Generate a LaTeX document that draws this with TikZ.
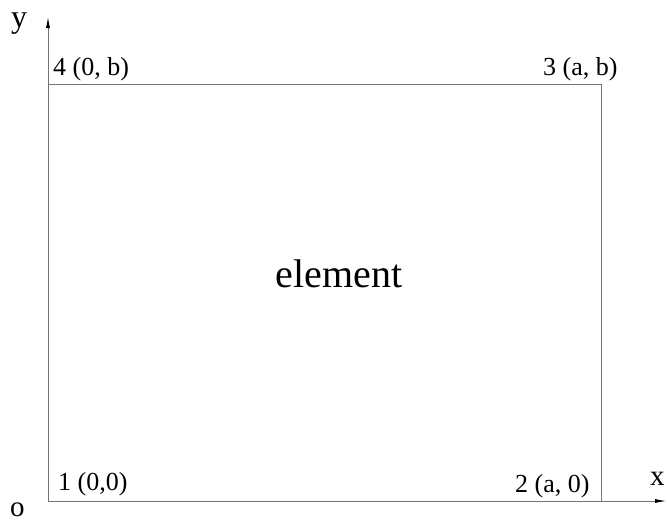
\documentclass[tikz,border=0pt]{standalone}
\usepackage{fontspec}
\setmainfont{Liberation Serif}
\usetikzlibrary{arrows.meta, positioning}

\begin{document}
\begin{tikzpicture}[x=1pt, y=-1pt,
  edge/.style={draw=black!55, line width=0.8pt},
  axis/.style={edge, -{Latex[length=11pt,width=4pt,black]}},
  corner/.style={font=\fontsize{26}{30}\selectfont, inner sep=0pt},
  axislabel/.style={font=\fontsize{29}{34}\selectfont, inner sep=0pt},
]
  \useasboundingbox (0,0) rectangle (667,523);

  % corners of the element
  \coordinate (n1) at (48,501);
  \coordinate (n2) at (601,501);
  \coordinate (n3) at (601,84);
  \coordinate (n4) at (48,84);
  \coordinate (ytip) at (48,17);
  \coordinate (xtip) at (666,501);

  \draw[edge] (n4) -- (n3) -- (n2);
  \draw[axis] (n1) -- (ytip);
  \draw[axis] (n1) -- (xtip);

  \node[corner, anchor=base west] (l1) at (58,490) {1 (0,0)};
  \node[corner, anchor=base west] (l2) at (515,492) {2 (a, 0)};
  \node[corner, anchor=base west] (l3) at (543,75) {3 (a, b)};
  \node[corner, anchor=base west] (l4) at (53,75) {4 (0, b)};

  \node[axislabel, font=\fontsize{32}{36}\selectfont, anchor=base west] (ylab) at (11,27) {y};
  \node[axislabel, anchor=base west] (xlab) at (650,485) {x};
  \node[axislabel, anchor=base west] (olab) at (10,516) {o};

  \node[font=\fontsize{40}{48}\selectfont, inner sep=0pt, anchor=base] (elem) at (339,287) {element};
\end{tikzpicture}
\end{document}
